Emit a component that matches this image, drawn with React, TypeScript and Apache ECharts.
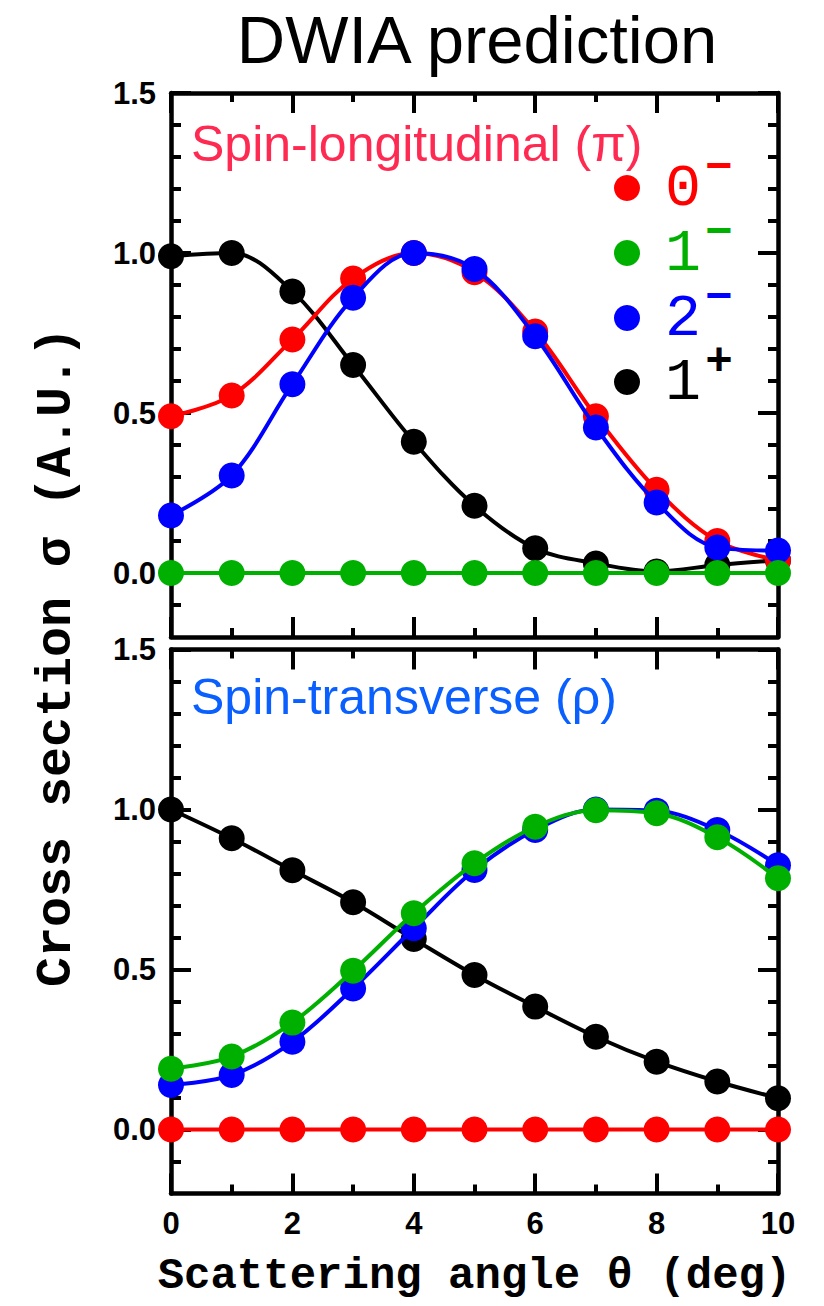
import React, { useEffect, useRef } from "react";
import * as echarts from "echarts";

// ---------- data ----------
const angles = [0, 1, 2, 3, 4, 5, 6, 7, 8, 9, 10];

// top panel: Spin-longitudinal (π)
const slRed = [0.49, 0.555, 0.73, 0.92, 1.0, 0.94, 0.755, 0.49, 0.26, 0.1, 0.04];
const slGreen = [0, 0, 0, 0, 0, 0, 0, 0, 0, 0, 0];
const slBlue = [0.18, 0.305, 0.59, 0.86, 1.0, 0.95, 0.74, 0.455, 0.22, 0.08, 0.07];
const slBlack = [0.99, 1.0, 0.88, 0.65, 0.41, 0.21, 0.077, 0.03, 0.005, 0.025, 0.04];

// bottom panel: Spin-transverse (ρ)
const stRed = [0, 0, 0, 0, 0, 0, 0, 0, 0, 0, 0];
const stGreen = [0.19, 0.228, 0.334, 0.496, 0.676, 0.832, 0.946, 0.998, 0.988, 0.913, 0.785];
const stBlue = [0.139, 0.17, 0.274, 0.441, 0.629, 0.811, 0.936, 1.0, 0.996, 0.936, 0.826];
const stBlack = [1.0, 0.91, 0.81, 0.71, 0.595, 0.483, 0.384, 0.29, 0.212, 0.15, 0.098];

const xMajor = [0, 2, 4, 6, 8, 10];
const xMinor = [1, 3, 5, 7, 9];
const yMajor = [0, 0.5, 1.0, 1.5];
const yMinor = [-0.1, 0.1, 0.2, 0.3, 0.4, 0.6, 0.7, 0.8, 0.9, 1.1, 1.2, 1.3, 1.4];

const legendDigits = ["0", "1", "2", "1"];
const legendSups = ["−", "−", "−", "+"];
const seriesNames = ["0−", "1−", "2−", "1+"];

const RED = "#FF0000";
const GREEN = "#00B000";
const BLUE = "#0000FF";
const BLACK = "#000000";
const legendColors = [RED, GREEN, BLUE, BLACK];

// ---------- styling helpers ----------
const MONO = '"Liberation Mono", "DejaVu Sans Mono", monospace';
const TICKFONT = '"Liberation Sans", Arial, sans-serif';
const SANS = '"Liberation Sans", Arial, Helvetica, sans-serif';
const lineW = 4.5;

function xAxisDef(gi: number, position: string, vals: number[], len: number, showLine: boolean, showLabel: boolean, extra: any = {}) {
  return {
    type: "value",
    gridIndex: gi,
    position,
    min: 0,
    max: 10,
    axisLine: { show: showLine, onZero: false, lineStyle: { color: "#000", width: lineW } },
    axisTick: { show: true, inside: true, length: len, customValues: vals, lineStyle: { color: "#000", width: 4 } },
    axisLabel: showLabel
      ? { show: true, customValues: vals, fontFamily: TICKFONT, fontWeight: "bold", fontSize: 31, color: "#000", margin: 14 }
      : { show: false },
    splitLine: { show: false },
    ...extra,
  };
}

function yAxisDef(gi: number, position: string, vals: number[], len: number, showLine: boolean, showLabel: boolean) {
  return {
    type: "value",
    gridIndex: gi,
    position,
    min: -0.2,
    max: 1.5,
    axisLine: { show: showLine, onZero: false, lineStyle: { color: "#000", width: lineW } },
    axisTick: { show: true, inside: true, length: len, customValues: vals, lineStyle: { color: "#000", width: 4 } },
    axisLabel: showLabel
      ? {
          show: true,
          customValues: vals,
          formatter: (v: number) => v.toFixed(1),
          fontFamily: TICKFONT,
          fontWeight: "bold",
          fontSize: 31,
          color: "#000",
          margin: 15,
        }
      : { show: false },
    splitLine: { show: false },
  };
}

function buildOption() {
  const grids = [
    { left: 171, right: 46, top: 93, height: 544, containLabel: false, outerBoundsMode: "none" },
    { left: 171, right: 46, top: 649.5, height: 544, containLabel: false, outerBoundsMode: "none" },
  ];
  const xAxes: any[] = [];
  const yAxes: any[] = [];
  for (let g = 0; g < 2; g++) {
    const nameExtra =
      g === 1
        ? {
            name: "Scattering angle θ (deg)",
            nameLocation: "middle",
            nameGap: 60,
            nameTextStyle: { fontFamily: MONO, fontWeight: "bold", fontSize: 44, color: "#000" },
          }
        : {};
    xAxes.push(xAxisDef(g, "bottom", xMajor, 20, true, g === 1, nameExtra));
    xAxes.push(xAxisDef(g, "bottom", xMinor, 9, false, false));
    xAxes.push(xAxisDef(g, "top", xMajor, 20, true, false));
    xAxes.push(xAxisDef(g, "top", xMinor, 9, false, false));
    yAxes.push(yAxisDef(g, "left", yMajor, 20, true, true));
    yAxes.push(yAxisDef(g, "left", yMinor, 10, false, false));
    yAxes.push(yAxisDef(g, "right", yMajor, 20, true, false));
    yAxes.push(yAxisDef(g, "right", yMinor, 10, false, false));
  }

  const panels = [
    { red: slRed, green: slGreen, blue: slBlue, black: slBlack },
    { red: stRed, green: stGreen, blue: stBlue, black: stBlack },
  ];
  const series: any[] = [];
  panels.forEach((p, g) => {
    const order: [string, number[], string][] = [
      [seriesNames[3], p.black, BLACK],
      [seriesNames[0], p.red, RED],
      [seriesNames[2], p.blue, BLUE],
      [seriesNames[1], p.green, GREEN],
    ];
    order.forEach(([name, vals, color], k) => {
      series.push({
        type: "line",
        name,
        xAxisIndex: g * 4,
        yAxisIndex: g * 4,
        data: angles.map((a, i) => [a, vals[i]]),
        smooth: 0.35,
        symbol: "circle",
        symbolSize: 26,
        clip: false,
        z: 2 + k,
        lineStyle: { color, width: 4 },
        itemStyle: { color },
        emphasis: { disabled: true },
      });
    });
  });

  const legendY = [188, 253, 318, 382];
  const graphics: any[] = [];
  legendY.forEach((yy, i) => {
    graphics.push({ type: "circle", shape: { cx: 627, cy: yy, r: 13 }, style: { fill: legendColors[i] }, z: 10 });
    graphics.push({
      type: "text",
      x: 683,
      y: yy + 1,
      z: 10,
      style: {
        text: legendDigits[i],
        fontFamily: MONO,
        fontSize: 60,
        fill: legendColors[i],
        align: "center",
        verticalAlign: "middle",
      },
    });
    graphics.push({
      type: "text",
      x: 719,
      y: yy - 19,
      z: 10,
      style: {
        text: legendSups[i],
        fontFamily: MONO,
        fontSize: 46,
        fontWeight: "bold",
        fill: legendColors[i],
        align: "center",
        verticalAlign: "middle",
      },
    });
  });

  graphics.push({
    type: "text",
    x: 191,
    y: 144,
    z: 10,
    style: {
      text: "Spin-longitudinal (π)",
      fontFamily: SANS,
      fontSize: 50,
      fill: "#FF2A52",
      align: "left",
      verticalAlign: "middle",
    },
  });
  graphics.push({
    type: "text",
    x: 191,
    y: 697,
    z: 10,
    style: {
      text: "Spin-transverse (ρ)",
      fontFamily: SANS,
      fontSize: 50,
      fill: "#0A60FF",
      align: "left",
      verticalAlign: "middle",
    },
  });
  graphics.push({
    type: "text",
    x: 56,
    y: 657,
    rotation: Math.PI / 2,
    z: 10,
    style: {
      text: "Cross section σ (A.U.)",
      fontFamily: MONO,
      fontWeight: "bold",
      fontSize: 50,
      fill: "#000",
      align: "center",
      verticalAlign: "middle",
    },
  });

  return {
    animation: false,
    backgroundColor: "#ffffff",
    title: {
      text: "DWIA prediction",
      left: 477,
      top: 39,
      textAlign: "center",
      textVerticalAlign: "middle",
      textStyle: { fontFamily: SANS, fontSize: 67, fontWeight: "normal", color: "#000" },
      padding: 0,
    },
    grid: grids,
    xAxis: xAxes,
    yAxis: yAxes,
    series,
    graphic: graphics,
  };
}

export default function App() {
  const ref = useRef<HTMLDivElement>(null);
  useEffect(() => {
    if (!ref.current) return;
    const chart = echarts.init(ref.current, null, { renderer: "svg" });
    chart.setOption(buildOption() as any);
    return () => chart.dispose();
  }, []);
  return (
    <div
      ref={ref}
      style={{ position: "absolute", left: 0, top: 0, width: 824, height: 1306, background: "#fff" }}
    />
  );
}
